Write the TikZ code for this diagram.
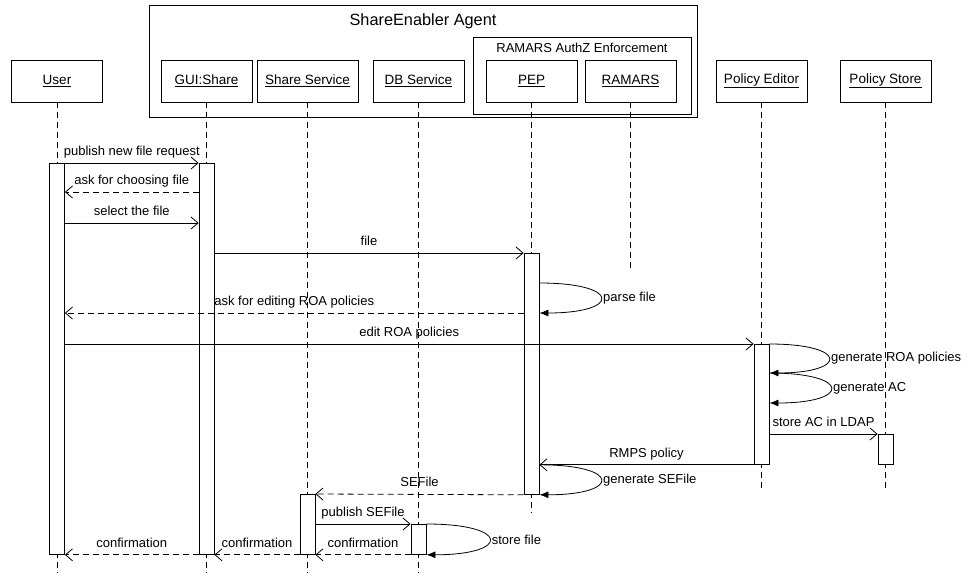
\documentclass[tikz,border=0pt]{standalone}
\usepackage{fontspec}
\setmainfont{Liberation Sans}
\usepackage{tikz}
\usetikzlibrary{arrows.meta}

\tikzset{
  obj/.style={draw,rectangle,minimum width=91pt,minimum height=42pt,font=\fontsize{13.5}{16}\selectfont},
  act/.style={draw,fill=white,rectangle,minimum width=15pt,anchor=north,inner sep=0pt},
  life/.style={dash pattern=on 6pt off 4pt},
  msg/.style={-{Straight Barb[length=7pt,width=12pt]}},
  reply/.style={msg,dash pattern=on 6pt off 4pt},
  selfmsg/.style={-{Latex[length=9pt,width=7pt]},out=0,in=0,looseness=7},
  lbl/.style={anchor=base,yshift=7.5pt},
  selflbl/.style={right,inner sep=2pt}
}

\begin{document}
\begin{tikzpicture}[x=1pt,y=-1pt,line width=0.8pt,every node/.style={font=\fontsize{13}{15}\selectfont}]
\useasboundingbox (0,0) rectangle (969,573);

%frames
\node [draw,rectangle,minimum width=548pt,minimum height=112pt] (agent) at(423,61){};
\node (agentname) at(423,21){\fontsize{16.3}{19}\selectfont ShareEnabler Agent};
\node [draw,rectangle,minimum width=218pt,minimum height=77pt] (authz) at(582,75.5){};
\node (authzname) at(582,48){RAMARS AuthZ Enforcement};

\node [obj] (user) at(57,81){\underline{User}};
\node [obj] (gui) at(206.5,81){\underline{GUI:Share}};
\node [obj,minimum width=101pt] (share) at(307.5,81){\underline{Share Service}};
\node [obj] (db) at(418.5,81){\underline{DB Service}};
\node [obj] (pep) at(531.5,81){\underline{PEP}};
\node [obj] (ramars) at(630.5,81){\underline{RAMARS}};
\node [obj] (editor) at(761.5,81){\underline{Policy Editor}};
\node [obj] (store) at(885.5,81){\underline{Policy Store}};

%lifelines
\draw[life](user) -- (user |- 0,573);
\draw[life](gui) -- (gui |- 0,573);
\draw[life](share) -- (share |- 0,573);
\draw[life](db) -- (db |- 0,573);
\draw[life](pep) -- (pep |- 0,513);
\draw[life](ramars) -- (ramars |- 0,270);
\draw[life](editor) -- (editor |- 0,488);
\draw[life](store) -- (store |- 0,488);

%activations
\node [act,minimum height=391pt] (useract) at(user |- 0,163){};
\node [act,minimum height=391pt] (guiact) at(gui |- 0,163){};
\node [act,minimum height=241pt] (pepact) at(pep |- 0,253){};
\node [act,minimum height=120pt] (editoract) at(editor |- 0,344){};
\node [act,minimum height=30pt] (storeact) at(store |- 0,434){};
\node [act,minimum height=60pt] (shareact) at(share |- 0,494){};
\node [act,minimum height=30pt] (dbact) at(db |- 0,524){};

\draw[msg](useract.north east) -- node[lbl]{publish new file request} (guiact.north west);
\draw[reply](guiact.west |- 0,192) -- node[lbl]{ask for choosing file} (useract.east |- 0,192);
\draw[msg](useract.east |- 0,223) -- node[lbl]{select the file} (guiact.west |- 0,223);
\draw[msg](guiact.east |- pepact.north) -- node[lbl]{file} (pepact.north west);
\draw[selfmsg](pepact.east |- 0,283) to node[selflbl]{parse file} (pepact.east |- 0,313);
\draw[reply](pepact.west |- 0,313) -- node[lbl]{ask for editing ROA policies} (useract.east |- 0,313);
\draw[msg](useract.east |- editoract.north) -- node[lbl]{edit ROA policies} (editoract.north west);
\draw[selfmsg](editoract.north east) to node[selflbl]{generate ROA policies} (editoract.east |- 0,373);
\draw[selfmsg](editoract.east |- 0,373) to node[selflbl]{generate AC} (editoract.east |- 0,403);
\draw[msg](editoract.east |- storeact.north) -- node[lbl]{store AC in LDAP} (storeact.north west);
\draw[msg](editoract.south west) -- node[lbl]{RMPS policy} (pepact.east |- editoract.south);
\draw[selfmsg](pepact.east |- editoract.south) to node[selflbl]{generate SEFile} (pepact.south east);
\draw[reply](pepact.south west) -- node[lbl]{SEFile} (shareact.north east);
\draw[msg](shareact.east |- dbact.north) -- node[lbl]{publish SEFile} (dbact.north west);
\draw[selfmsg](dbact.north east) to node[selflbl]{store file} (dbact.south east);
%\draw[reply](dbact.south west) -- (useract.south east);
\draw[reply](dbact.south west) -- node[lbl]{confirmation} (shareact.south east);
\draw[reply](shareact.south west) -- node[lbl]{confirmation} (guiact.south east);
\draw[reply](guiact.south west) -- node[lbl]{confirmation} (useract.south east);

\end{tikzpicture}
\end{document}
